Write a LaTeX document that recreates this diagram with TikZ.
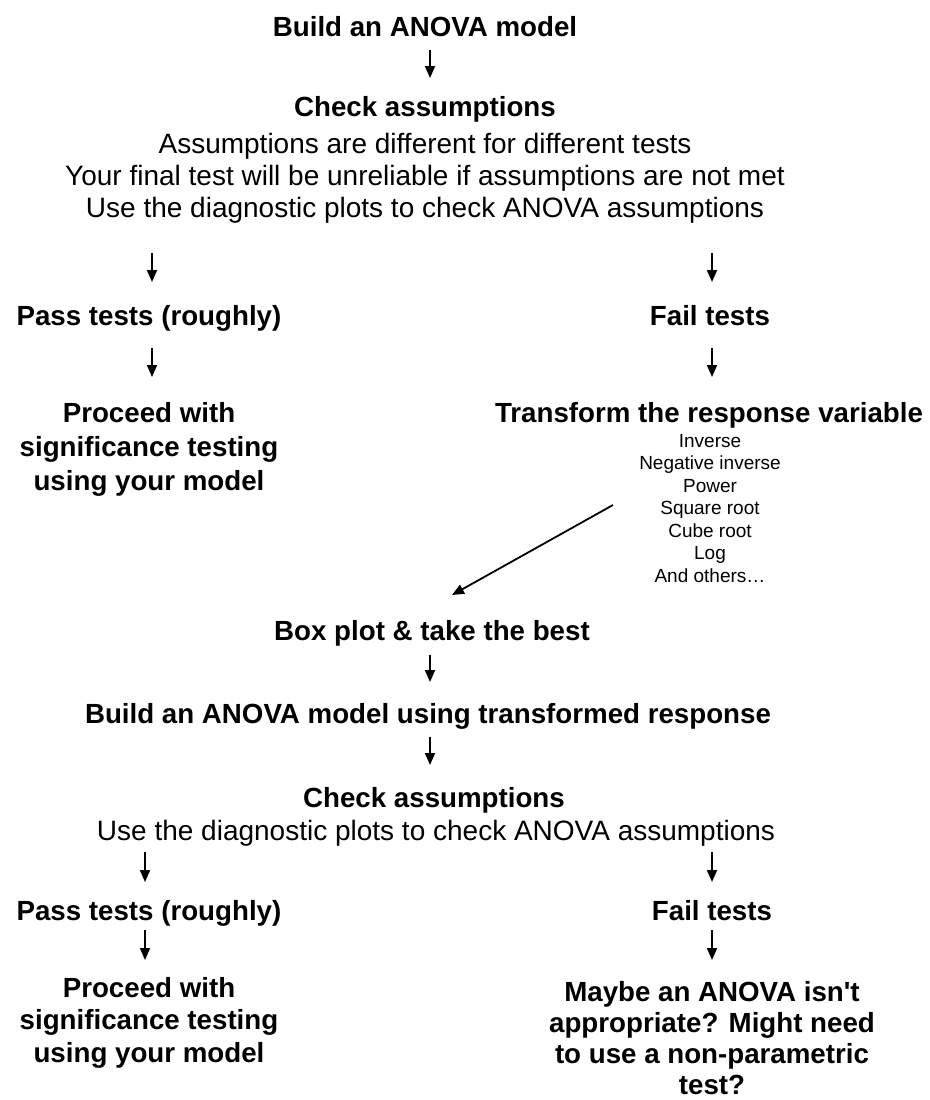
\documentclass[tikz,border=0pt]{standalone}
\usepackage{fontspec}
\setmainfont{Liberation Sans}
\usetikzlibrary{arrows.meta}
\begin{document}
\begin{tikzpicture}[x=1pt,y=-1pt,
  hd/.style={font=\fontsize{27.7}{34}\selectfont\bfseries, inner sep=0pt, anchor=base, align=center},
  tx/.style={font=\fontsize{28}{32}\selectfont, inner sep=0pt, anchor=base, align=center},
  sm/.style={font=\fontsize{19}{22.5}\selectfont, inner sep=0pt, anchor=base, align=center},
  arr/.style={-{Triangle[length=12pt,width=10pt]}, line width=1.8pt}]
\useasboundingbox[fill=white] (0,0) rectangle (929,1100);

% nodes (anchor base = baseline of the last line)
\node[hd] (build) at (425,36) {Build an ANOVA model};
\node[hd] (check1) at (425,116) {Check assumptions};
\node[tx] (notes1) at (425,217) {Assumptions are different for different tests\\Your final test will be unreliable if assumptions are not met\\Use the diagnostic plots to check ANOVA assumptions};
\node[hd] (pass1) at (149,325) {Pass tests (roughly)};
\node[hd] (fail1) at (710,325) {Fail tests};
\node[hd] (proc1) at (149,490) {Proceed with\\significance testing\\using your model};
\node[hd] (trans) at (709,422) {Transform the response variable};
\node[sm] (list) at (710,582) {Inverse\\Negative inverse\\Power\\Square root\\Cube root\\Log\\And others…};
\node[hd] (box) at (432,640) {Box plot \& take the best};
\node[hd] (build2) at (428,723) {Build an ANOVA model using transformed response};
\node[hd] (check2) at (434,807) {Check assumptions};
\node[tx] (notes2) at (436,840) {Use the diagnostic plots to check ANOVA assumptions};
\node[hd] (pass2) at (149,920) {Pass tests (roughly)};
\node[hd] (fail2) at (712,920) {Fail tests};
\node[hd, font=\fontsize{27.7}{32.5}\selectfont\bfseries] (proc2) at (149,1062) {Proceed with\\significance testing\\using your model};
\node[hd, font=\fontsize{27.7}{31}\selectfont\bfseries] (maybe) at (712,1094) {Maybe an ANOVA isn\textquotesingle t\\appropriate? Might need\\to use a non-parametric\\test?};

% arrow end points
\coordinate (a1s) at (430,50);  \coordinate (a1e) at (430,78);
\coordinate (a2s) at (152,253); \coordinate (a2e) at (152,282);
\coordinate (a3s) at (712,253); \coordinate (a3e) at (712,282);
\coordinate (a4s) at (152,348); \coordinate (a4e) at (152,377);
\coordinate (a5s) at (712,348); \coordinate (a5e) at (712,377);
\coordinate (ds)  at (613,505); \coordinate (de)  at (452,595);
\coordinate (a6s) at (430,655); \coordinate (a6e) at (430,682);
\coordinate (a7s) at (430,737); \coordinate (a7e) at (430,765);
\coordinate (a8s) at (145,852); \coordinate (a8e) at (145,882);
\coordinate (a9s) at (712,852); \coordinate (a9e) at (712,882);
\coordinate (a10s) at (145,930); \coordinate (a10e) at (145,960);
\coordinate (a11s) at (712,930); \coordinate (a11e) at (712,960);

\foreach \s/\e in {a1s/a1e,a2s/a2e,a3s/a3e,a4s/a4e,a5s/a5e,ds/de,a6s/a6e,a7s/a7e,a8s/a8e,a9s/a9e,a10s/a10e,a11s/a11e}
  \draw[arr] (\s) -- (\e);
\end{tikzpicture}
\end{document}
